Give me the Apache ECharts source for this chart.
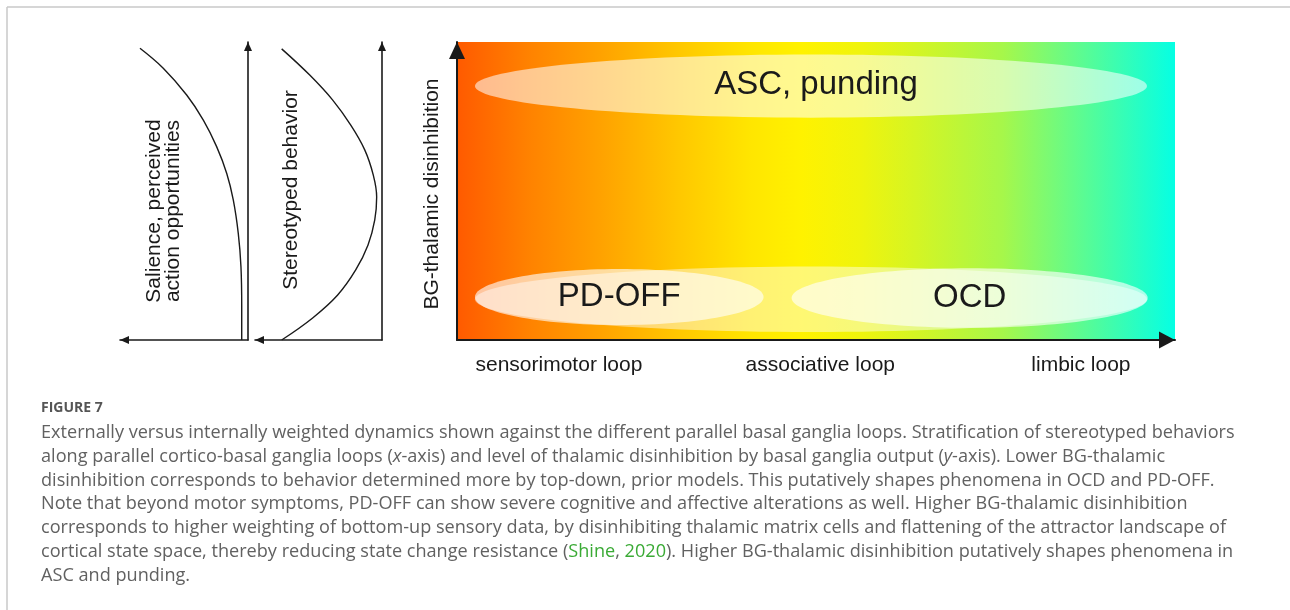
<!DOCTYPE html>
<html><head><meta charset="utf-8">
<script src="https://cdn.jsdelivr.net/npm/echarts@6/dist/echarts.min.js"></script>
<style>html,body{margin:0;padding:0;background:#fff}#c{width:1290px;height:610px}</style>
</head><body><div id="c"></div><script>
// ---- data (arbitrary units, 0..10 on each axis) ----
// Panel 1: salience / perceived action opportunities (x = distance left of the vertical axis)
const salienceX = [8.44, 6.62, 4.79, 3.49, 2.45, 1.66, 1.15, 0.76, 0.55, 0.49, 0.49];
const salienceY = [9.79, 9.12, 8.22, 7.38, 6.49, 5.59, 4.70, 3.58, 2.46, 1.12, 0];
// Panel 2: stereotyped behavior
const stereoX = [7.90, 5.69, 3.88, 2.46, 1.36, 0.69, 0.42, 0.57, 1.10, 2.07, 3.49, 5.46, 7.90];
const stereoY = [9.77, 8.89, 8.05, 7.21, 6.38, 5.54, 4.80, 4.03, 3.19, 2.35, 1.51, 0.74, 0];
// Main panel: behaviour regions (ellipses)
const regionLabels = ['ASC, punding', '', 'PD-OFF', 'OCD'];
const regionX = [4.93, 4.93, 2.26, 7.14];
const regionY = [8.52, 1.37, 1.44, 1.41];
const regionHalfW = [4.68, 4.68, 2.01, 2.48];
const regionHalfH = [1.06, 1.10, 0.94, 1.00];
// x-axis loop labels
const loopNames = ['sensorimotor loop', 'associative loop', 'limbic loop'];
const loopPositions = [1.42, 5.06, 8.69];
// caption
const figureLabel = 'FIGURE 7';
const captionLines = [
  'Externally versus internally weighted dynamics shown against the different parallel basal ganglia loops. Stratification of stereotyped behaviors',
  'along parallel cortico-basal ganglia loops ({i|x}-axis) and level of thalamic disinhibition by basal ganglia output ({i|y}-axis). Lower BG-thalamic',
  'disinhibition corresponds to behavior determined more by top-down, prior models. This putatively shapes phenomena in OCD and PD-OFF.',
  'Note that beyond motor symptoms, PD-OFF can show severe cognitive and affective alterations as well. Higher BG-thalamic disinhibition',
  'corresponds to higher weighting of bottom-up sensory data, by disinhibiting thalamic matrix cells and flattening of the attractor landscape of',
  'cortical state space, thereby reducing state change resistance ({g|Shine}, {g|2020}). Higher BG-thalamic disinhibition putatively shapes phenomena in',
  'ASC and punding.'
];

// ---- rendering ----
const FONT = '"Liberation Sans", Arial, sans-serif';
const CAPFONT = '"Open Sans", sans-serif';
const INK = '#1a1a1a';
const pairs = (xs, ys) => xs.map((x, i) => [x, ys[i]]);

function measure(txt, font) {
  const ctx = document.createElement('canvas').getContext('2d');
  ctx.font = font; return ctx.measureText(txt).width;
}
const capSize = 17 * 1194 / measure(captionLines[0], '17px ' + CAPFONT);
const capFont = capSize.toFixed(2) + 'px ' + CAPFONT;

const regionAlpha = [0.56, 0.45, 0.62, 0.62];

function smallX(gi) {
  return { gridIndex: gi, type: 'value', min: 0, max: 10, inverse: true,
    axisLine: { show: true, onZero: false, symbol: ['triangle', 'none'], symbolSize: [8, 9], symbolOffset: [4.5, 0],
      lineStyle: { color: INK, width: 1.6 } },
    axisTick: { show: false }, axisLabel: { show: false }, splitLine: { show: false } };
}
function smallY(gi) {
  return { gridIndex: gi, type: 'value', min: 0, max: 10, position: 'right',
    axisLine: { show: true, onZero: false, symbol: ['none', 'triangle'], symbolSize: [8, 9], symbolOffset: [0, -4.5],
      lineStyle: { color: INK, width: 1.6 } },
    axisTick: { show: false }, axisLabel: { show: false }, splitLine: { show: false } };
}

const graphics = [
  { type: 'line', shape: { x1: 7, y1: 7, x2: 1290, y2: 7 }, style: { stroke: '#c8c8c8', lineWidth: 1.5 }, silent: true },
  { type: 'line', shape: { x1: 7, y1: 7, x2: 7, y2: 610 }, style: { stroke: '#c8c8c8', lineWidth: 1.5 }, silent: true },
  { type: 'text', x: 164, y: 211, rotation: Math.PI / 2,
    style: { text: 'Salience, perceived\naction opportunities', font: '21px ' + FONT, fill: INK, align: 'center', verticalAlign: 'middle', lineHeight: 19 } },
  { type: 'text', x: 291.5, y: 190, rotation: Math.PI / 2,
    style: { text: 'Stereotyped behavior', font: '21px ' + FONT, fill: INK, align: 'center', verticalAlign: 'middle' } },
  { type: 'text', x: 432, y: 194, rotation: Math.PI / 2,
    style: { text: 'BG-thalamic disinhibition', font: '21px ' + FONT, fill: INK, align: 'center', verticalAlign: 'middle' } },
  { type: 'text', x: 41, y: 408,
    style: { text: figureLabel, font: 'bold 14px ' + CAPFONT, fill: '#555555', align: 'left', verticalAlign: 'middle' } }
];
captionLines.forEach((t, i) => {
  graphics.push({ type: 'text', x: 41, y: 433 + i * 23.75,
    style: { text: t, font: capFont, fill: '#616161', align: 'left', verticalAlign: 'middle',
      rich: { i: { font: 'italic ' + capFont, fill: '#616161' }, g: { font: capFont, fill: '#3aaa35' } } } });
});

const option = {
  animation: false,
  backgroundColor: '#ffffff',
  grid: [
    { left: 120, top: 42, width: 128, height: 298 },
    { left: 255, top: 42, width: 127, height: 298 },
    { left: 457, top: 42, width: 718, height: 298, show: true, borderWidth: 0,
      backgroundColor: { type: 'linear', x: 0, y: 0, x2: 1, y2: 0, colorStops: [
        { offset: 0, color: '#ff5a00' }, { offset: 0.1, color: '#ff8200' }, { offset: 0.2, color: '#ffa200' },
        { offset: 0.31, color: '#ffc800' }, { offset: 0.41, color: '#ffe600' }, { offset: 0.48, color: '#fff200' },
        { offset: 0.56, color: '#f0f40c' }, { offset: 0.64, color: '#d4f524' }, { offset: 0.76, color: '#a6f74a' },
        { offset: 0.88, color: '#55fc98' }, { offset: 1, color: '#05ffe4' } ] } }
  ],
  xAxis: [ smallX(0), smallX(1),
    { gridIndex: 2, type: 'value', min: 0, max: 10,
      axisLine: { show: true, onZero: false, symbol: ['none', 'triangle'], symbolSize: [17, 16], symbolOffset: [0, -8],
        lineStyle: { color: INK, width: 2 } },
      axisTick: { show: false }, splitLine: { show: false },
      axisLabel: { show: true, customValues: loopPositions, margin: 15, fontSize: 21, fontFamily: FONT, color: INK,
        formatter: (v) => { let k = 0; loopPositions.forEach((p, j) => { if (Math.abs(p - v) < Math.abs(loopPositions[k] - v)) k = j; }); return loopNames[k]; } } }
  ],
  yAxis: [ smallY(0), smallY(1),
    { gridIndex: 2, type: 'value', min: 0, max: 10,
      axisLine: { show: true, onZero: false, symbol: ['none', 'triangle'], symbolSize: [16, 17], symbolOffset: [0, -8.5],
        lineStyle: { color: INK, width: 2 } },
      axisTick: { show: false }, axisLabel: { show: false }, splitLine: { show: false } }
  ],
  series: [
    { type: 'line', xAxisIndex: 0, yAxisIndex: 0, data: pairs(salienceX, salienceY), smooth: 0.4,
      symbol: 'none', lineStyle: { color: INK, width: 1.4 }, silent: true },
    { type: 'line', xAxisIndex: 1, yAxisIndex: 1, data: pairs(stereoX, stereoY), smooth: 0.4,
      symbol: 'none', lineStyle: { color: INK, width: 1.4 }, silent: true },
    { type: 'custom', xAxisIndex: 2, yAxisIndex: 2, silent: true,
      data: regionX.map((x, i) => [x, regionY[i], regionHalfW[i], regionHalfH[i]]),
      renderItem: (params, api) => {
        const i = params.dataIndex;
        const c = api.coord([api.value(0), api.value(1)]);
        const s = api.size([api.value(2), api.value(3)]);
        return { type: 'group', children: [
          { type: 'ellipse', shape: { cx: c[0], cy: c[1], rx: s[0], ry: s[1] },
            style: { fill: 'rgba(255,255,255,' + regionAlpha[i] + ')' } },
          { type: 'text', x: c[0] + (i === 0 ? 5 : 0), y: c[1] - (i === 0 ? 1 : 0),
            style: { text: regionLabels[i], font: '33px ' + FONT, fill: INK, align: 'center', verticalAlign: 'middle' } }
        ] };
      } }
  ],
  graphic: graphics
};
const chart = echarts.init(document.getElementById('c'));
chart.setOption(option);
</script></body></html>
